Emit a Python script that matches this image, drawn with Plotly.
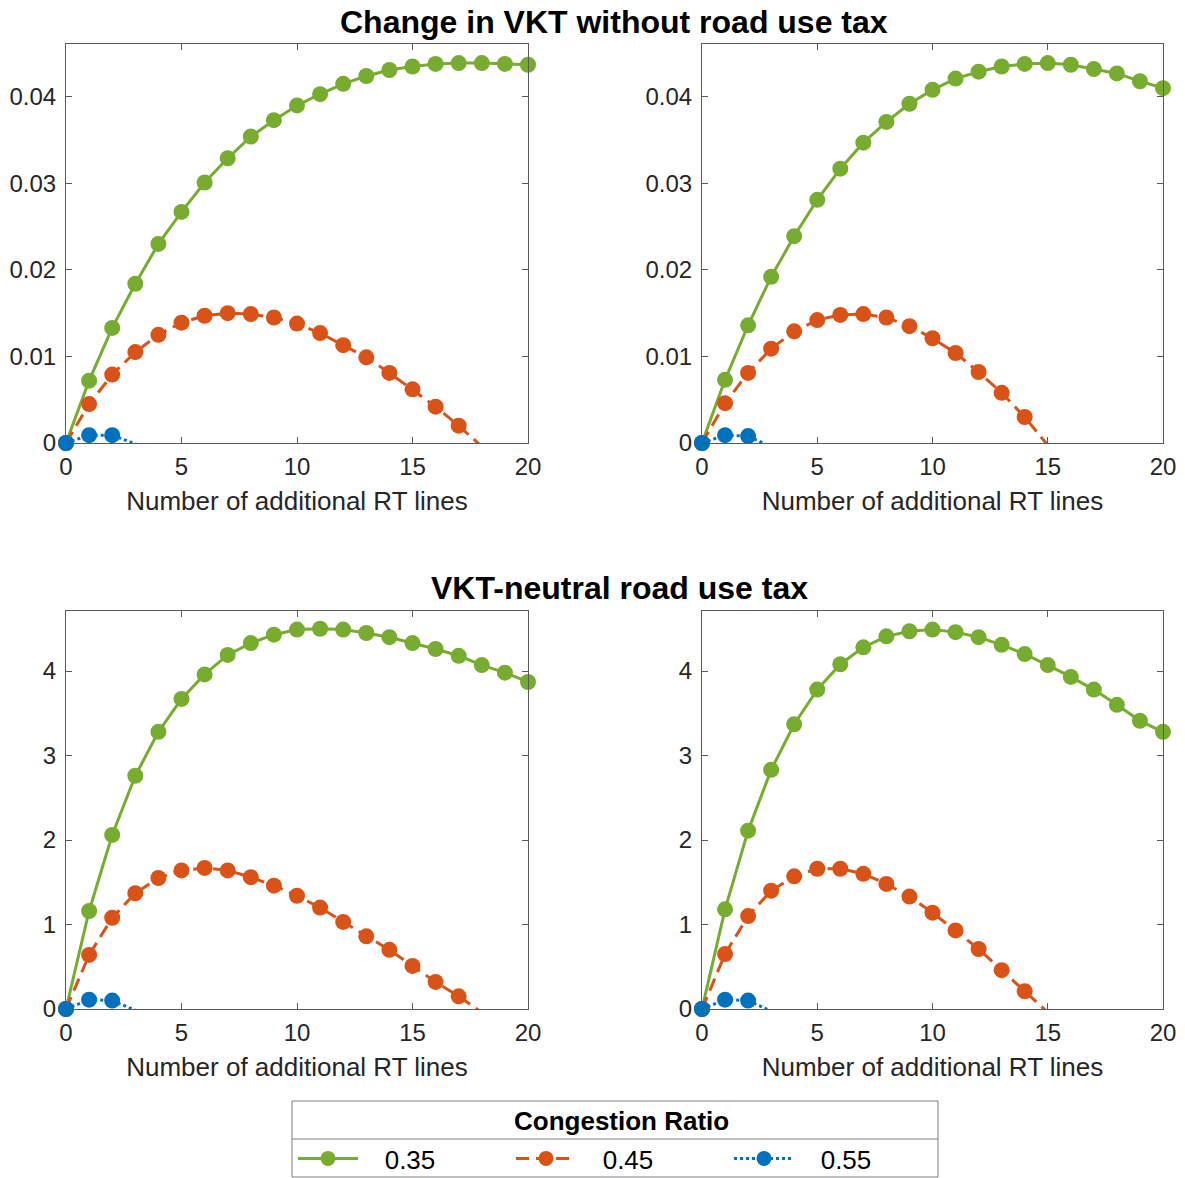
import numpy as np
import plotly.graph_objects as go

# ---------------- data ----------------
x_lines = list(range(0, 21))

# Top-left: change in VKT without road use tax (panel 1)
tl_035 = [0, 0.0072, 0.0133, 0.0184, 0.0230, 0.0267, 0.0301, 0.0329, 0.0354, 0.0373, 0.0390,
          0.0403, 0.0415, 0.0424, 0.0431, 0.0435, 0.0438, 0.0439, 0.0439, 0.0438, 0.0437]
tl_045 = [0, 0.0045, 0.0079, 0.0105, 0.0125, 0.0139, 0.0147, 0.0150, 0.0149, 0.0145, 0.0138,
          0.0127, 0.0113, 0.0099, 0.0081, 0.0062, 0.0042, 0.0020, -0.0004, -0.0030, -0.0057]
tl_055 = [0, 0.0009, 0.0009, -0.0001, -0.0013]

# Top-right (panel 2)
tr_035 = [0, 0.0073, 0.0136, 0.0192, 0.0239, 0.0281, 0.0317, 0.0347, 0.0371, 0.0392, 0.0408,
          0.0421, 0.0429, 0.0435, 0.0438, 0.0439, 0.0437, 0.0432, 0.0427, 0.0418, 0.0410]
tr_045 = [0, 0.0046, 0.0081, 0.0109, 0.0129, 0.0142, 0.0148, 0.0149, 0.0145, 0.0135, 0.0121,
          0.0104, 0.0082, 0.0058, 0.0030, -0.0002, -0.0035, -0.0070, -0.0108, -0.0148, -0.0190]
tr_055 = [0, 0.0009, 0.0008, -0.0004, -0.0017]

# Bottom-left: VKT-neutral road use tax (panel 3)
bl_035 = [0, 1.16, 2.06, 2.76, 3.28, 3.67, 3.96, 4.19, 4.33, 4.43, 4.49,
          4.50, 4.49, 4.45, 4.40, 4.33, 4.26, 4.18, 4.07, 3.98, 3.87]
bl_045 = [0, 0.64, 1.08, 1.37, 1.55, 1.64, 1.67, 1.64, 1.56, 1.46, 1.34,
          1.20, 1.03, 0.86, 0.70, 0.51, 0.32, 0.15, -0.04, -0.25, -0.47]
bl_055 = [0, 0.11, 0.10, -0.01, -0.13]

# Bottom-right (panel 4)
br_035 = [0, 1.18, 2.11, 2.83, 3.37, 3.78, 4.08, 4.28, 4.41, 4.47, 4.49,
          4.46, 4.40, 4.31, 4.20, 4.07, 3.93, 3.78, 3.60, 3.41, 3.28]
br_045 = [0, 0.65, 1.10, 1.40, 1.57, 1.66, 1.66, 1.60, 1.48, 1.33, 1.14,
          0.93, 0.71, 0.46, 0.21, -0.03, -0.29, -0.56, -0.84, -1.13, -1.43]
br_055 = [0, 0.11, 0.10, -0.02, -0.15]

ratios = ["0.35", "0.45", "0.55"]
x_ticks = [0, 5, 10, 15, 20]
top_yticks = [0, 0.01, 0.02, 0.03, 0.04]
bot_yticks = [0, 1, 2, 3, 4]
titles = ["Change in VKT without road use tax", "VKT-neutral road use tax"]
xlabel = "Number of additional RT lines"
legend_title = "Congestion Ratio"

# ---------------- style ----------------
W, H = 1185, 1178
colors = {"0.35": "#77AC30", "0.45": "#D95319", "0.55": "#0072BD"}
dashes = {"0.35": "solid", "0.45": "13px,7px", "0.55": "3px,3px"}
FONT = "Liberation Sans"
TXT = "#262626"
AX = "#5a5a5a"
MS = 16

def px_x(p):
    return p / W

def px_y(p):
    return 1 - p / H

panels = [
    dict(x0=66, x1=528, y0=44, y1=443, data=[tl_035, tl_045, tl_055], yr=[0, 0.0461], yt=top_yticks),
    dict(x0=702, x1=1163, y0=44, y1=443, data=[tr_035, tr_045, tr_055], yr=[0, 0.0461], yt=top_yticks),
    dict(x0=66, x1=528, y0=611, y1=1009, data=[bl_035, bl_045, bl_055], yr=[0, 4.71], yt=bot_yticks),
    dict(x0=702, x1=1163, y0=611, y1=1009, data=[br_035, br_045, br_055], yr=[0, 4.71], yt=bot_yticks),
]

fig = go.Figure()
layout = {}
for i, p in enumerate(panels, start=1):
    xa = "x" if i == 1 else f"x{i}"
    ya = "y" if i == 1 else f"y{i}"
    for r, ys in zip(ratios, p["data"]):
        ys = np.array(ys, dtype=float)
        xs = np.array(x_lines[: len(ys)])
        # line (clipped at axes)
        fig.add_trace(go.Scatter(
            x=xs, y=ys, mode="lines", xaxis=xa, yaxis=ya,
            line=dict(color=colors[r], width=3, dash=dashes[r]),
            name=r, legendgroup=r, showlegend=False, cliponaxis=True,
        ))
        # markers (not clipped, only those inside the axis range)
        m = ys >= 0
        fig.add_trace(go.Scatter(
            x=xs[m], y=ys[m], mode="markers", xaxis=xa, yaxis=ya,
            marker=dict(color=colors[r], size=MS, symbol="circle"),
            name=r, legendgroup=r, showlegend=False, cliponaxis=False,
        ))
    axcommon = dict(showline=True, linecolor=AX, linewidth=1, mirror="ticks",
                    ticks="inside", ticklen=6, tickcolor=AX, showgrid=False, zeroline=False,
                    tickfont=dict(family=FONT, size=24, color=TXT))
    layout["xaxis" if i == 1 else f"xaxis{i}"] = dict(
        axcommon, domain=[px_x(p["x0"]), px_x(p["x1"])], range=[0, 20],
        tickvals=x_ticks, anchor=ya, ticklabelstandoff=2,
        title=dict(text=xlabel, font=dict(family=FONT, size=26, color=TXT), standoff=13))
    layout["yaxis" if i == 1 else f"yaxis{i}"] = dict(
        axcommon, domain=[px_y(p["y1"]), px_y(p["y0"])], range=p["yr"],
        tickvals=p["yt"], anchor=xa, ticklabelstandoff=4)

# legend entries (one per congestion ratio)
for r in ratios:
    fig.add_trace(go.Scatter(
        x=[None], y=[None], mode="lines+markers",
        line=dict(color=colors[r], width=3, dash=dashes[r]),
        marker=dict(color=colors[r], size=MS - 1, symbol="circle"),
        name="\u00a0\u00a0\u00a0" + r, legendgroup=r, showlegend=True,
    ))

fig.update_layout(**layout)

annotations = [
    dict(text=f"<b>{titles[0]}</b>", x=px_x(614), y=px_y(22), xref="paper", yref="paper",
         showarrow=False, font=dict(family=FONT, size=32, color="#000000"), xanchor="center", yanchor="middle"),
    dict(text=f"<b>{titles[1]}</b>", x=px_x(619), y=px_y(588), xref="paper", yref="paper",
         showarrow=False, font=dict(family=FONT, size=32, color="#000000"), xanchor="center", yanchor="middle"),
    # legend title (centred over the legend box, above the separator line)
    dict(text=f"<b>{legend_title}</b>", x=px_x(621), y=px_y(1121), xref="paper", yref="paper",
         showarrow=False, font=dict(family=FONT, size=26, color="#000000"), xanchor="center", yanchor="middle"),
]

shapes = [
    dict(type="rect", xref="paper", yref="paper", x0=px_x(292), x1=px_x(938), y0=px_y(1177), y1=px_y(1101),
         line=dict(color="#808080", width=1), fillcolor="rgba(0,0,0,0)"),
    dict(type="line", xref="paper", yref="paper", x0=px_x(292), x1=px_x(938), y0=px_y(1139), y1=px_y(1139),
         line=dict(color="#808080", width=1)),
]

fig.update_layout(
    width=W, height=H, margin=dict(l=0, r=0, t=0, b=0, autoexpand=False),
    paper_bgcolor="white", plot_bgcolor="white",
    annotations=annotations, shapes=shapes,
    legend=dict(
        orientation="h", x=px_x(293), xanchor="left", y=px_y(1135), yanchor="top",
        font=dict(family=FONT, size=26, color="#000000"),
        entrywidth=143, entrywidthmode="pixels", bgcolor="rgba(0,0,0,0)", borderwidth=0,
        itemwidth=60,
    ),
)

fig.write_html("out.html")
